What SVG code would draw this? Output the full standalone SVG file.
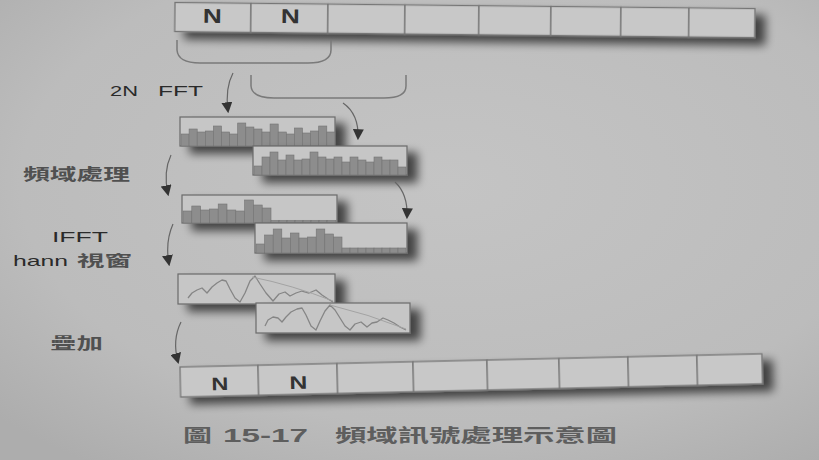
<svg xmlns="http://www.w3.org/2000/svg" width="819" height="460" viewBox="0 0 819 460">
<defs>
<radialGradient id="bg" cx="0.55" cy="0.4" r="0.75">
<stop offset="0" stop-color="#c4c4c4"/>
<stop offset="0.7" stop-color="#bcbcbc"/>
<stop offset="1" stop-color="#adadad"/>
</radialGradient>
<filter id="sh" x="-20%" y="-50%" width="150%" height="220%">
<feGaussianBlur in="SourceAlpha" stdDeviation="5"/>
<feOffset dx="10" dy="7" result="b"/>
<feComponentTransfer><feFuncA type="linear" slope="0.65"/></feComponentTransfer>
<feMerge><feMergeNode/><feMergeNode in="SourceGraphic"/></feMerge>
</filter>
<marker id="ah" viewBox="0 0 10 10" refX="8" refY="5" markerWidth="11" markerHeight="11" markerUnits="userSpaceOnUse" orient="auto">
<path d="M0,0 L10,5 L0,10 z" fill="#333"/>
</marker>
</defs>
<style>
.cell{fill:#c8c8c8;stroke:#767676;stroke-width:1.3}
.box{fill:#c6c6c6;stroke:#6a6a6a;stroke-width:1.2}
.bar{fill:#8d8d8d;stroke:#737373;stroke-width:0.6}
.wave{fill:none;stroke:#858585;stroke-width:1.3;stroke-linejoin:round}
.env{fill:none;stroke:#a3a3a3;stroke-width:1}
.brace{fill:none;stroke:#7a7a7a;stroke-width:1.5}
.arr{fill:none;stroke:#666;stroke-width:1.2;marker-end:url(#ah)}
.n{font-family:"Liberation Sans",Arial,sans-serif;font-weight:bold;fill:#333}
.lbl{font-family:"Liberation Sans","Noto Sans CJK TC",sans-serif;fill:#2a2a2a}
.cjk{font-family:"Noto Sans CJK TC","Liberation Sans",sans-serif;fill:#505050;font-weight:bold}
.cap{font-family:"Liberation Sans","Noto Sans CJK TC",sans-serif;font-weight:bold;fill:#5e5e5e}
</style>
<rect width="819" height="460" fill="url(#bg)"/>

<g id="input-array" transform="rotate(0.6 175 3)">
<g filter="url(#sh)">
<rect class="cell" x="175" y="2.5" width="76" height="29"/>
<rect class="cell" x="251" y="2.5" width="77" height="29"/>
<rect class="cell" x="328" y="2.5" width="77" height="29"/>
<rect class="cell" x="405" y="2.5" width="74" height="29"/>
<rect class="cell" x="479" y="2.5" width="72" height="29"/>
<rect class="cell" x="551" y="2.5" width="70" height="29"/>
<rect class="cell" x="621" y="2.5" width="68" height="29"/>
<rect class="cell" x="689" y="2.5" width="66" height="29"/>
</g>
<text class="n" x="203" y="22.5" font-size="20" textLength="19" lengthAdjust="spacingAndGlyphs">N</text>
<text class="n" x="281" y="22" font-size="20" textLength="19" lengthAdjust="spacingAndGlyphs">N</text>
</g>

<g id="spec-a" filter="url(#sh)">
<rect class="box" x="180" y="117" width="155" height="29"/>
<g class="bar">
<rect x="181" y="134" width="8.1" height="12"/><rect x="189.1" y="129" width="8.1" height="17"/><rect x="197.2" y="132" width="8.1" height="14"/><rect x="205.3" y="131" width="8.1" height="15"/><rect x="213.4" y="126" width="8.1" height="20"/><rect x="221.5" y="132" width="8.1" height="14"/><rect x="229.6" y="134" width="8.1" height="12"/><rect x="237.7" y="123" width="8.1" height="23"/><rect x="245.8" y="127" width="8.1" height="19"/><rect x="253.9" y="129" width="8.1" height="17"/><rect x="262" y="132" width="8.1" height="14"/><rect x="270.1" y="124" width="8.1" height="22"/><rect x="278.2" y="132" width="8.1" height="14"/><rect x="286.3" y="134" width="8.1" height="12"/><rect x="294.4" y="128" width="8.1" height="18"/><rect x="302.5" y="133" width="8.1" height="13"/><rect x="310.6" y="131" width="8.1" height="15"/><rect x="318.7" y="126" width="8.1" height="20"/><rect x="326.8" y="132" width="8.1" height="14"/>
</g>
</g>

<g id="spec-b" filter="url(#sh)">
<rect class="box" x="253" y="146" width="154" height="29"/>
<g class="bar">
<rect x="254" y="166" width="8" height="9"/><rect x="262" y="157" width="8" height="18"/><rect x="270" y="152" width="8" height="23"/><rect x="278" y="160" width="8" height="15"/><rect x="286" y="155" width="8" height="20"/><rect x="294" y="160" width="8" height="15"/><rect x="302" y="159" width="8" height="16"/><rect x="310" y="152" width="8" height="23"/><rect x="318" y="157" width="8" height="18"/><rect x="326" y="159" width="8" height="16"/><rect x="334" y="157" width="8" height="18"/><rect x="342" y="162" width="8" height="13"/><rect x="350" y="157" width="8" height="18"/><rect x="358" y="160" width="8" height="15"/><rect x="366" y="162" width="8" height="13"/><rect x="374" y="157" width="8" height="18"/><rect x="382" y="160" width="8" height="15"/><rect x="390" y="160" width="8" height="15"/><rect x="398" y="167" width="8" height="8"/>
</g>
</g>

<g id="spec-c" filter="url(#sh)">
<rect class="box" x="182" y="195" width="155" height="28"/>
<g class="bar">
<rect x="183" y="211" width="8.8" height="12"/><rect x="191.8" y="206" width="8.8" height="17"/><rect x="200.6" y="210" width="8.8" height="13"/><rect x="209.4" y="209" width="8.8" height="14"/><rect x="218.2" y="204" width="8.8" height="19"/><rect x="227" y="210" width="8.8" height="13"/><rect x="235.8" y="211" width="8.8" height="12"/><rect x="244.6" y="200" width="8.8" height="23"/><rect x="253.4" y="205" width="8.8" height="18"/><rect x="262.2" y="208" width="8.8" height="15"/>
<rect x="271" y="220.5" width="8" height="2.5"/><rect x="279" y="220.5" width="8" height="2.5"/><rect x="287" y="220.5" width="8" height="2.5"/><rect x="295" y="220.5" width="8" height="2.5"/><rect x="303" y="220.5" width="8" height="2.5"/><rect x="311" y="220.5" width="8" height="2.5"/><rect x="319" y="220.5" width="8" height="2.5"/><rect x="327" y="220.5" width="9" height="2.5"/>
</g>
</g>

<g id="spec-d" filter="url(#sh)">
<rect class="box" x="255" y="223" width="152" height="30"/>
<g class="bar">
<rect x="256" y="244" width="8.6" height="9"/><rect x="264.6" y="235" width="8.6" height="18"/><rect x="273.2" y="229" width="8.6" height="24"/><rect x="281.8" y="238" width="8.6" height="15"/><rect x="290.4" y="233" width="8.6" height="20"/><rect x="299" y="238" width="8.6" height="15"/><rect x="307.6" y="237" width="8.6" height="16"/><rect x="316.2" y="229" width="8.6" height="24"/><rect x="324.8" y="234" width="8.6" height="19"/><rect x="333.4" y="237" width="8.6" height="16"/>
<rect x="342" y="248" width="8" height="5"/><rect x="350" y="248" width="8" height="5"/><rect x="358" y="248" width="8" height="5"/><rect x="366" y="248" width="8" height="5"/><rect x="374" y="248" width="8" height="5"/><rect x="382" y="248" width="8" height="5"/><rect x="390" y="248" width="8" height="5"/><rect x="398" y="248" width="8" height="5"/>
</g>
</g>

<g id="wave-e" filter="url(#sh)">
<rect class="box" x="178" y="274" width="157" height="30"/>
<polyline class="wave" points="188,298 192,293 197,290 202,288 207,293 212,287 217,283 222,280 226,281 230,289 235,298 240,302 245,293 250,281 255,276 260,284 266,293 273,301 279,294 285,292 290,296 296,293 302,291 309,293 316,290 322,295 328,299 333,302"/>
<path class="env" d="M252,277 Q292,285 333,301"/>
</g>

<g id="wave-f" filter="url(#sh)">
<rect class="box" x="256" y="303" width="154" height="30"/>
<polyline class="wave" points="265,326 268,320 273,317 278,318 282,322 286,317 291,312 297,309 302,308 306,315 311,326 316,330 320,321 325,311 330,305 335,310 340,318 345,326 350,330 355,324 361,322 367,327 372,323 377,322 383,318 388,320 394,323 400,327 406,330"/>
<path class="env" d="M330,305 Q368,314 406,329"/>
</g>

<g id="output-array" transform="rotate(-1.3 180 367)">
<g filter="url(#sh)">
<rect class="cell" x="180" y="367" width="78" height="30"/>
<rect class="cell" x="258" y="367" width="79" height="30"/>
<rect class="cell" x="337" y="367" width="76" height="30"/>
<rect class="cell" x="413" y="367" width="74" height="30"/>
<rect class="cell" x="487" y="367" width="72" height="30"/>
<rect class="cell" x="559" y="367" width="69" height="30"/>
<rect class="cell" x="628" y="367" width="69" height="30"/>
<rect class="cell" x="697" y="367" width="65" height="30"/>
</g>
<text class="n" x="211" y="391" font-size="18" textLength="17" lengthAdjust="spacingAndGlyphs">N</text>
<text class="n" x="289" y="391.5" font-size="18" textLength="18" lengthAdjust="spacingAndGlyphs">N</text>
</g>

<g id="connectors">
<path class="brace" d="M177,40 V50 Q178,63 200,63 H308 Q331,63 331,50 V40"/>
<path class="brace" d="M251,75 V86 Q252,98 274,98 H384 Q406,98 406,86 V75"/>
<path class="arr" d="M233,73 Q225,88 228,111"/>
<path class="arr" d="M343,103 Q359,114 358,138"/>
<path class="arr" d="M395,182 Q408,194 407,217"/>
<path class="arr" d="M171,155 Q163,172 168,194"/>
<path class="arr" d="M173,224 Q165,242 169,264"/>
<path class="arr" d="M181,322 Q172,340 178,362"/>
</g>

<g id="labels">
<text class="lbl" y="96" font-size="14"><tspan x="110" textLength="28" lengthAdjust="spacingAndGlyphs">2N</tspan><tspan x="158" textLength="45" lengthAdjust="spacingAndGlyphs">FFT</tspan></text>
<text class="cjk" x="23" y="180" font-size="16" textLength="107" lengthAdjust="spacingAndGlyphs">頻域處理</text>
<text class="lbl" x="52" y="242" font-size="14" textLength="56" lengthAdjust="spacingAndGlyphs">IFFT</text>
<text y="266" font-size="15"><tspan class="lbl" x="13" textLength="55" lengthAdjust="spacingAndGlyphs">hann</tspan><tspan class="cjk" x="77" textLength="55" lengthAdjust="spacingAndGlyphs">視窗</tspan></text>
<text class="cjk" x="50" y="349" font-size="16" textLength="53" lengthAdjust="spacingAndGlyphs">疊加</text>
</g>

<g id="caption">
<text class="cap" y="442" font-size="18"><tspan x="183" textLength="29" lengthAdjust="spacingAndGlyphs">圖</tspan><tspan x="223" textLength="85" lengthAdjust="spacingAndGlyphs">15-17</tspan><tspan x="335" textLength="282" lengthAdjust="spacingAndGlyphs">頻域訊號處理示意圖</tspan></text>
</g>
</svg>
